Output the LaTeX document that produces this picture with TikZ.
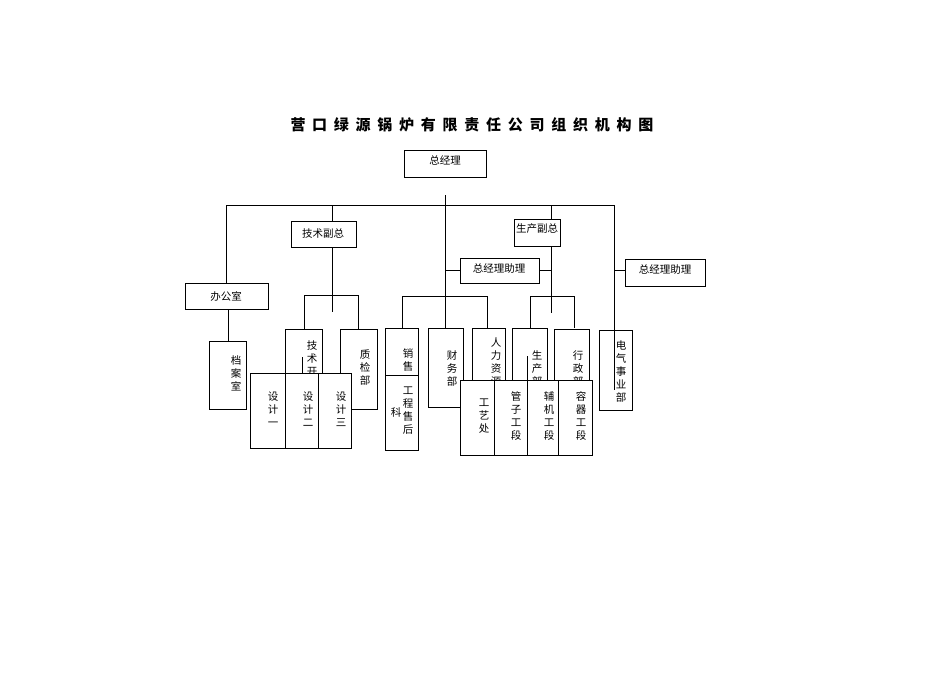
\documentclass[tikz,border=0pt]{standalone}
\usepackage{fontspec}
\newfontfamily\cjk{Noto Sans CJK SC}
\begin{document}
\begin{tikzpicture}[x=1pt,y=-1pt,
  bx/.style={draw,fill=white,line width=0.6pt},
  ln/.style={line width=0.6pt},
  ht/.style={font=\cjk\fontsize{10.5}{12}\selectfont,inner sep=0pt},
  vt/.style={font=\cjk\fontsize{10.5}{13}\selectfont,align=center,inner sep=0pt,anchor=north}]
\useasboundingbox (0,0) rectangle (950,672);
\node[font=\cjk\bfseries\fontsize{15}{17}\selectfont] (title) at (472,125) {营\hspace{0.45em}口\hspace{0.45em}绿\hspace{0.45em}源\hspace{0.45em}锅\hspace{0.45em}炉\hspace{0.45em}有\hspace{0.45em}限\hspace{0.45em}责\hspace{0.45em}任\hspace{0.45em}公\hspace{0.45em}司\hspace{0.45em}组\hspace{0.45em}织\hspace{0.45em}机\hspace{0.45em}构\hspace{0.45em}图};
% lines
\draw[ln] (445,195) -- (445,320);
\draw[ln] (226,205) -- (614,205);
\draw[ln] (226,205) -- (226,283);
\draw[ln] (228,309) -- (228,341);
\draw[ln] (332,205) -- (332,221);
\draw[ln] (332,247) -- (332,312);
\draw[ln] (304,329) -- (304,295) -- (358,295) -- (358,329);
\draw[ln] (402,328) -- (402,296) -- (487,296) -- (487,328);
\draw[ln] (445,296) -- (445,328);
\draw[ln] (445,270) -- (460,270);
\draw[ln] (539,270) -- (551,270);
\draw[ln] (551,205) -- (551,219);
\draw[ln] (551,246) -- (551,313);
\draw[ln] (530,328) -- (530,296) -- (574,296) -- (574,328);
\draw[ln] (614,205) -- (614,330);
\draw[ln] (614,270) -- (625,270);
% top boxes
\draw[bx] (404,150) rectangle (486,177); \node[ht] (zjl) at (445,160) {总经理};
\draw[bx] (291,221) rectangle (356,247); \node[ht] (jsfz) at (323,234) {技术副总};
\draw[bx] (514,219) rectangle (560,246); \node[ht] (scfz) at (537,229) {生产副总};
\draw[bx] (460,258) rectangle (539,283); \node[ht] (zl1) at (499,269) {总经理助理};
\draw[bx] (625,259) rectangle (705,286); \node[ht] (zl2) at (665,270) {总经理助理};
\draw[bx] (185,283) rectangle (268,309); \node[ht] (bgs) at (226,296) {办公室};
% second level
\draw[bx] (209,341) rectangle (246,409); \node[vt] (da) at (236,355) {档\\案\\室};
\draw[bx] (285,329) rectangle (322,380); \node[vt] (jskf) at (312,340) {技\\术\\开};
\draw[ln] (302,357) -- (302,373);
\draw[bx] (340,329) rectangle (377,409); \node[vt] (zj) at (365,350) {质\\检\\部};
\draw[bx] (385,328) rectangle (418,375); \node[vt] (xs) at (408,348) {销\\售};
\draw[bx] (428,328) rectangle (463,407); \node[vt] (cw) at (452,350) {财\\务\\部};
\draw[bx] (472,328) rectangle (505,385); \node[vt] (rl) at (496,338) {人\\力\\资\\源};
\draw[bx] (512,328) rectangle (547,385); \node[vt] (sc) at (537,350) {生\\产\\部};
\draw[ln] (527,356) -- (527,380);
\draw[bx] (554,329) rectangle (589,385); \node[vt] (xz) at (578,350) {行\\政\\部};
\draw[bx] (599,330) rectangle (632,410); \node[vt] (dq) at (621,340) {电\\气\\事\\业\\部};
\draw[ln] (614,330) -- (614,390);
% bottom boxes
\draw[bx] (250,373) rectangle (285,448); \node[vt] (sj1) at (273,392) {设\\计\\一};
\draw[bx] (285,373) rectangle (318,448); \node[vt] (sj2) at (308,392) {设\\计\\二};
\draw[bx] (318,373) rectangle (351,448); \node[vt] (sj3) at (341,392) {设\\计\\三};
\draw[bx] (385,375) rectangle (418,450); \node[vt] (gc) at (408,387) {工\\程\\售\\后};
\node[ht] (ke) at (396,412) {科};
\draw[bx] (460,380) rectangle (494,455); \node[vt] (gy) at (484,399) {工\\艺\\处};
\draw[bx] (494,380) rectangle (527,455); \node[vt] (gz) at (516,391) {管\\子\\工\\段};
\draw[bx] (527,380) rectangle (558,455); \node[vt] (fj) at (549,391) {辅\\机\\工\\段};
\draw[bx] (558,380) rectangle (592,455); \node[vt] (rq) at (581,391) {容\\器\\工\\段};
\end{tikzpicture}
\end{document}
